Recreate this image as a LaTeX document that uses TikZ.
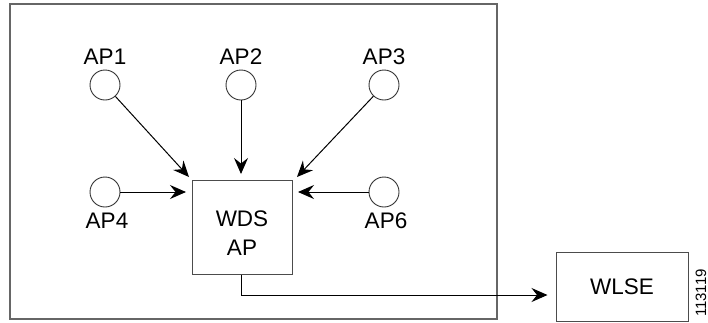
\documentclass[tikz,border=0pt]{standalone}
\usepackage{fontspec}
\setmainfont{Liberation Sans}
\usetikzlibrary{arrows.meta}
\begin{document}
\begin{tikzpicture}[x=1pt,y=-1pt,
  ap/.style={circle,draw=black!80,line width=0.9pt,minimum size=30pt,inner sep=0pt},
  lbl/.style={font=\fontsize{22.5}{26}\selectfont,inner sep=0pt},
  box/.style={draw=black!70,line width=1pt,inner sep=0pt,font=\fontsize{22.5}{26}\selectfont,align=center},
  conn/.style={line width=1pt,-{Stealth[length=16pt,width=14pt,inset=5.5pt]}}]
\useasboundingbox (0,0) rectangle (708,322);
\node[draw=black!60,line width=1.3pt,minimum width=487pt,minimum height=315pt,inner sep=0pt] (frame) at (253.5,161.5) {};
\node[ap] (ap1) at (105,85) {};
\node[ap] (ap2) at (241,85) {};
\node[ap] (ap3) at (384,85) {};
\node[ap] (ap4) at (105,192) {};
\node[ap] (ap6) at (384,192) {};
\node[lbl] (l1) at (105,57) {AP1};
\node[lbl] (l2) at (241,57) {AP2};
\node[lbl] (l3) at (384,57) {AP3};
\node[lbl] (l4) at (107,221) {AP4};
\node[lbl] (l6) at (386,221) {AP6};
\node[box,minimum width=100pt,minimum height=94pt] (wds) at (242,227) {};
\node[font=\fontsize{22.5}{26}\selectfont,inner sep=0pt] (wdst) at (242,219) {WDS};
\node[font=\fontsize{22.5}{26}\selectfont,inner sep=0pt] (wdsa) at (242,248) {AP};
\node[box,minimum width=132pt,minimum height=69pt] (wlse) at (622,287) {WLSE};
\node[rotate=90,font=\fontsize{15}{15}\selectfont,inner sep=0pt] (num) at (701,293) {113119};
\coordinate (t1) at (189,177);
\coordinate (t2) at (241,174);
\coordinate (t3) at (297,177);
\coordinate (t4) at (186,192);
\coordinate (t6) at (298,192);
\coordinate (bend) at (241,295);
\draw[conn] (ap1) -- (t1);
\draw[conn] (ap2) -- (t2);
\draw[conn] (ap3) -- (t3);
\draw[conn] (ap4) -- (t4);
\draw[conn] (ap6) -- (t6);
\draw[conn] (wds.south -| bend) -- (bend) -- ([xshift=-8pt]wlse.west |- bend);
\end{tikzpicture}
\end{document}
